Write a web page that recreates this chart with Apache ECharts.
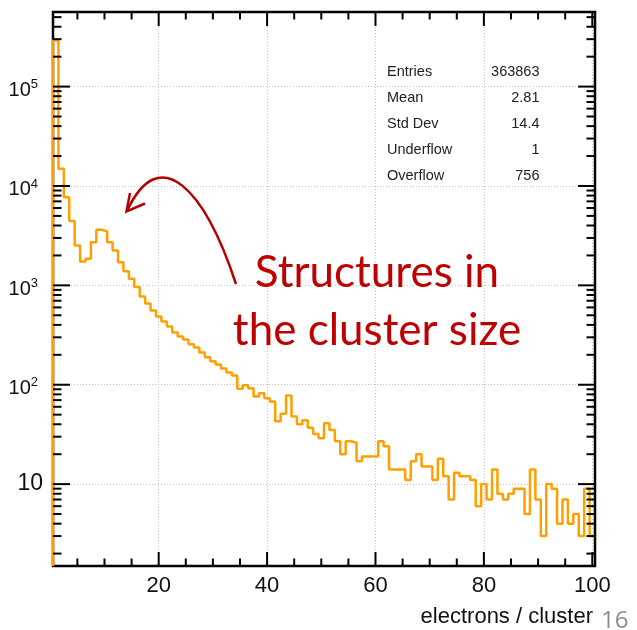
<!DOCTYPE html>
<html>
<head>
<meta charset="utf-8">
<script src="https://cdn.jsdelivr.net/npm/echarts@6/dist/echarts.min.js"></script>
<style>
  html, body { margin: 0; padding: 0; background: #ffffff; }
  #chart { width: 637px; height: 630px; }
</style>
</head>
<body>
<div id="chart"></div>
<script>
// Counts per unit-width bin, bins centred on 1, 2, ..., 100
const binCounts = [
  291000, 14900, 7710, 4430, 2520, 1740, 1850, 2720, 3630, 3490,
  2720, 2240, 1710, 1390, 1165, 960, 773, 658, 559, 487,
  433, 386, 336, 306, 286, 255, 237, 211, 189, 172,
  160, 146, 133, 124, 91, 99, 92, 76, 82, 73,
  68, 43, 51, 78, 48, 40, 44, 37, 32, 29,
  41, 35, 27, 20, 27, 26, 17, 19, 19, 19,
  27, 24, 14, 14, 14, 11, 17, 20, 15, 15,
  11, 18, 12, 7, 13, 12, 12, 11, 6, 10,
  7, 14, 8, 7, 8, 9, 9, 5, 14, 7,
  3, 10, 9, 4, 7, 4, 5, 3, 9, 3
];
const firstBinCenter = 1;

const xTickLabels = [20, 40, 60, 80, 100];
const yDecades = [10, 100, 1000, 10000, 100000];

const statNames = ['Entries', 'Mean', 'Std Dev', 'Underflow', 'Overflow'];
const statValues = ['363863', '2.81', '14.4', '1', '756'];

const xTitle = 'electrons / cluster';
const noteLines = ['Structures in', 'the cluster size'];
const pageNumber = '16';

// Axis ranges
const X_MIN = 0.5, X_MAX = 100.5;
const Y_MIN = 1.5, Y_MAX = 5.63e5;

// Histogram outline: rise from the frame bottom, then one step per bin
const outline = [[X_MIN, Y_MIN]];
binCounts.forEach(function (c, i) {
  outline.push([firstBinCenter + i - 0.5, c]);
});
outline.push([firstBinCenter + binCounts.length - 0.5, binCounts[binCounts.length - 1]]);

// ROOT-style tick marks on all four sides
const xTickMarks = [];
for (let v = 5; v <= 100; v += 5) xTickMarks.push([v, Y_MIN, v % 20 === 0 ? 1 : 0]);
const yTickMarks = [];
for (let k = 0; k <= 5; k++) {
  for (let m = 1; m <= 9; m++) {
    const v = m * Math.pow(10, k);
    if (v >= Y_MIN && v <= Y_MAX) yTickMarks.push([X_MIN, v, m === 1 ? 1 : 0]);
  }
}

const FONT = '"Liberation Sans", Arial, Helvetica, sans-serif';
const NOTE_RED = '#c00000';

const chart = echarts.init(document.getElementById('chart'), null, { renderer: 'canvas' });

function tickLine(x1, y1, x2, y2) {
  return { type: 'line', shape: { x1: x1, y1: y1, x2: x2, y2: y2 },
           style: { stroke: '#000', lineWidth: 2 } };
}

const statsGraphics = [];
statNames.forEach(function (name, i) {
  const y = 72 + i * 26;
  statsGraphics.push({
    type: 'text', left: null, x: 387, y: y, z: 10,
    style: { text: name, fill: '#222', font: '14.5px ' + FONT,
             align: 'left', verticalAlign: 'middle', textAlign: 'left', textVerticalAlign: 'middle' }
  });
  statsGraphics.push({
    type: 'text', x: 539.5, y: y, z: 10,
    style: { text: statValues[i], fill: '#222', font: '14.5px ' + FONT,
             align: 'right', verticalAlign: 'middle', textAlign: 'right', textVerticalAlign: 'middle' }
  });
});

const noteGraphics = noteLines.map(function (line, i) {
  return {
    type: 'text', x: 377, y: 273 + i * 58, z: 10,
    style: { text: line, fill: NOTE_RED, font: '44px Lato, "Open Sans", sans-serif',
             align: 'center', verticalAlign: 'middle', textAlign: 'center', textVerticalAlign: 'middle' }
  };
});

const option = {
  backgroundColor: '#ffffff',
  animation: false,
  grid: {
    left: 53, right: 42, top: 12, bottom: 64,
    show: true, borderColor: '#000', borderWidth: 2.5, backgroundColor: 'transparent'
  },
  xAxis: {
    type: 'value',
    min: X_MIN, max: X_MAX,
    name: xTitle,
    nameLocation: 'end',
    nameGap: -2,
    nameTextStyle: {
      fontFamily: FONT, fontSize: 22, color: '#111',
      align: 'right', verticalAlign: 'top', padding: [40, 0, 0, 0]
    },
    axisLine: { show: false },
    axisTick: { show: false, customValues: xTickLabels },
    axisLabel: {
      customValues: xTickLabels,
      fontFamily: FONT, fontSize: 22, color: '#111', margin: 9
    },
    splitLine: { show: true, lineStyle: { color: '#c4c4c4', width: 1, type: [1, 2] } }
  },
  yAxis: {
    type: 'log',
    logBase: 10,
    min: Y_MIN, max: Y_MAX,
    axisLine: { show: false },
    axisTick: { show: false, customValues: yDecades },
    axisLabel: {
      customValues: yDecades,
      margin: 10,
      formatter: function (v) {
        const e = Math.round(Math.log10(v));
        if (e === 1) return '{p|10}';
        return '{b|10}{s|' + e + '}';
      },
      rich: {
        p: { fontFamily: FONT, fontSize: 23, color: '#111' },
        b: { fontFamily: FONT, fontSize: 20, lineHeight: 20, color: '#111', padding: [8, 0, 0, 0] },
        s: { fontFamily: FONT, fontSize: 13, lineHeight: 13, color: '#111', padding: [0, 5, 4, 0] }
      }
    },
    splitLine: { show: true, lineStyle: { color: '#c4c4c4', width: 1, type: [1, 2] } }
  },
  series: [
    {
      name: 'electrons per cluster',
      type: 'line',
      step: 'end',
      data: outline,
      showSymbol: false,
      symbol: 'none',
      clip: true,
      z: 4,
      lineStyle: { color: '#ffa000', width: 2.5 }
    },
    {
      name: 'x ticks',
      type: 'custom',
      z: 5,
      silent: true,
      encode: { x: 0, y: 1 },
      data: xTickMarks,
      renderItem: function (params, api) {
        const v = api.value(0);
        const len = api.value(2) === 1 ? 14 : 7.5;
        const pb = api.coord([v, Y_MIN]);
        const pt = api.coord([v, Y_MAX]);
        return { type: 'group', children: [
          tickLine(pb[0], pb[1], pb[0], pb[1] - len),
          tickLine(pt[0], pt[1], pt[0], pt[1] + len)
        ] };
      }
    },
    {
      name: 'y ticks',
      type: 'custom',
      z: 5,
      silent: true,
      encode: { x: 0, y: 1 },
      data: yTickMarks,
      renderItem: function (params, api) {
        const v = api.value(1);
        const len = api.value(2) === 1 ? 17 : 8.5;
        const pl = api.coord([X_MIN, v]);
        const pr = api.coord([X_MAX, v]);
        return { type: 'group', children: [
          tickLine(pl[0], pl[1], pl[0] + len, pl[1]),
          tickLine(pr[0], pr[1], pr[0] - len, pr[1])
        ] };
      }
    }
  ],
  graphic: [].concat(statsGraphics, noteGraphics, [
    {
      type: 'bezierCurve', z: 10,
      shape: { x1: 236, y1: 284, cpx1: 205, cpy1: 190, cpx2: 160, cpy2: 140, x2: 127, y2: 211 },
      style: { stroke: '#b30000', lineWidth: 2.5, fill: null }
    },
    {
      type: 'polyline', z: 10,
      shape: { points: [[130, 193], [126.5, 211.5], [145, 203.5]] },
      style: { stroke: '#b30000', lineWidth: 2.5, fill: null }
    },
    {
      type: 'text', x: 601, y: 609, z: 10,
      style: { text: pageNumber, fill: '#8c8c8c', font: '24px "Open Sans", Lato, sans-serif',
               align: 'left', verticalAlign: 'top', textAlign: 'left', textVerticalAlign: 'top' }
    }
  ])
};

chart.setOption(option);
</script>
</body>
</html>
